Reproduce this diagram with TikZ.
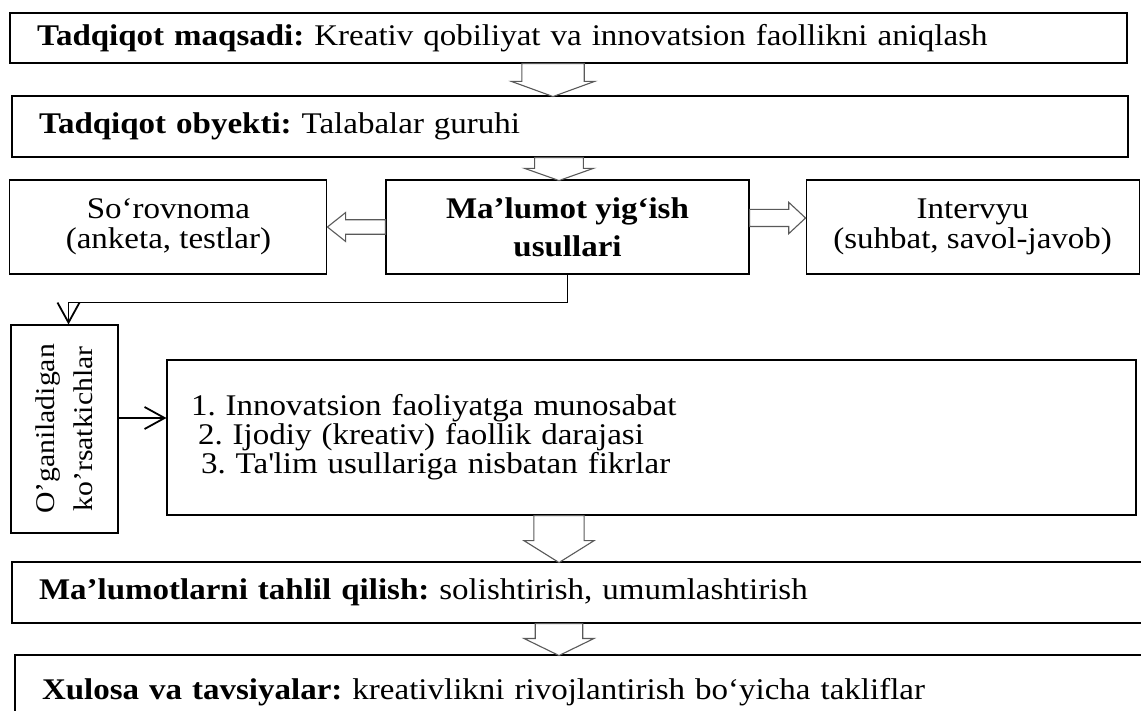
\documentclass[tikz,border=0pt]{standalone}
\usepackage{fontspec}
\setmainfont{Liberation Serif}[FakeStretch=1.1]
\usepackage{tikz}
\usetikzlibrary{shapes,arrows,arrows.meta,positioning,calc}

\tikzset{
  box/.style={rectangle, draw, line width=1.1pt, inner sep=0pt},
  wide/.style={box, align=left, inner xsep=27pt},
  blk/.style={single arrow, draw=black!65, fill=white, line width=1.1pt, inner xsep=0pt, outer sep=0pt, anchor=tail},
  conn/.style={-{Straight Barb[length=20pt,width=22pt]}, line width=1.8pt}
}

\begin{document}
\frenchspacing
\begin{tikzpicture}[x=1pt, y=-1pt, font=\fontsize{30}{30}\selectfont]
        \useasboundingbox (0,0) rectangle (1141,711);
        \coordinate (spine) at (559,0);

        \node (goal) [wide, minimum height=50pt, text width=1063pt] at (568.5,38) {\textbf{Tadqiqot maqsadi:} Kreativ qobiliyat va innovatsion faollikni aniqlash};
        \node (obj) [wide, minimum height=61pt, text width=1062pt] at (570,126.5) {\textbf{Tadqiqot obyekti:} Talabalar guruhi};

        \node (methods) [box, minimum width=363pt, minimum height=94pt, align=center, font=\fontsize{30}{38}\selectfont\bfseries] at (567.5,227) {Ma’lumot yig‘ish\\usullari};
        \node (surv) [box, minimum width=317pt, minimum height=94pt, align=center, left=58pt of methods] {So‘rovnoma\\(anketa, testlar)};
        \node (interv) [box, minimum width=333pt, minimum height=94pt, align=center, right=56pt of methods] {Intervyu\\(suhbat, savol-javob)};

        \node (indic) [box, rotate=90, minimum width=208pt, minimum height=107pt, align=center, font=\fontsize{27}{38}\selectfont] at (64.5,429) {O’ganiladigan\\ko’rsatkichlar};
        \node (list) [wide, inner xsep=24pt, minimum height=155pt, text width=921pt, font=\fontsize{30}{29}\selectfont] at (651.5,437.5) {1. Innovatsion faoliyatga munosabat\\\hspace*{7pt}2. Ijodiy (kreativ) faollik darajasi\\\hspace*{10pt}3. Ta\textquotesingle lim usullariga nisbatan fikrlar};

        \node (anal) [wide, minimum height=61pt, text width=1084pt] at (581,592.5) {\textbf{Ma’lumotlarni tahlil qilish:} solishtirish, umumlashtirish};
        \node (concl) [wide, minimum height=75pt, text width=1081pt] at (582.5,692.5) {\textbf{Xulosa va tavsiyalar:} kreativlikni rivojlantirish bo‘yicha takliflar};

        % block arrows
        \node (a1) [blk, rotate=-90, minimum height=33pt, minimum width=83pt, inner ysep=21pt, single arrow tip angle=140] at ([xshift=-6pt]goal.south -| spine) {};
        \node (a2) [blk, rotate=-90, minimum height=23pt, minimum width=69pt, inner ysep=16.5pt, single arrow tip angle=141] at (obj.south -| spine) {};
        \node (a3) [blk, rotate=-90, minimum height=47pt, minimum width=70pt, inner ysep=17.5pt, single arrow tip angle=116] at (list.south -| spine) {};
        \node (a4) [blk, rotate=-90, minimum height=32pt, minimum width=70pt, inner ysep=14.5pt, single arrow tip angle=128] at (anal.south -| spine) {};
        \node (aL) [blk, rotate=180, minimum height=58pt, minimum width=29pt, inner ysep=6.5pt, single arrow tip angle=77] at (methods.west) {};
        \node (aR) [blk, minimum height=56pt, minimum width=30pt, inner ysep=8pt, single arrow tip angle=86] at ([yshift=9pt]methods.east) {};

        \draw[conn] (methods.south) -- ++(0,28) -| ([xshift=4pt]indic.east);
        \draw[conn] ([yshift=11pt]indic.south) -- ([yshift=11pt]indic.south -| list.west);
    \end{tikzpicture}
\end{document}
